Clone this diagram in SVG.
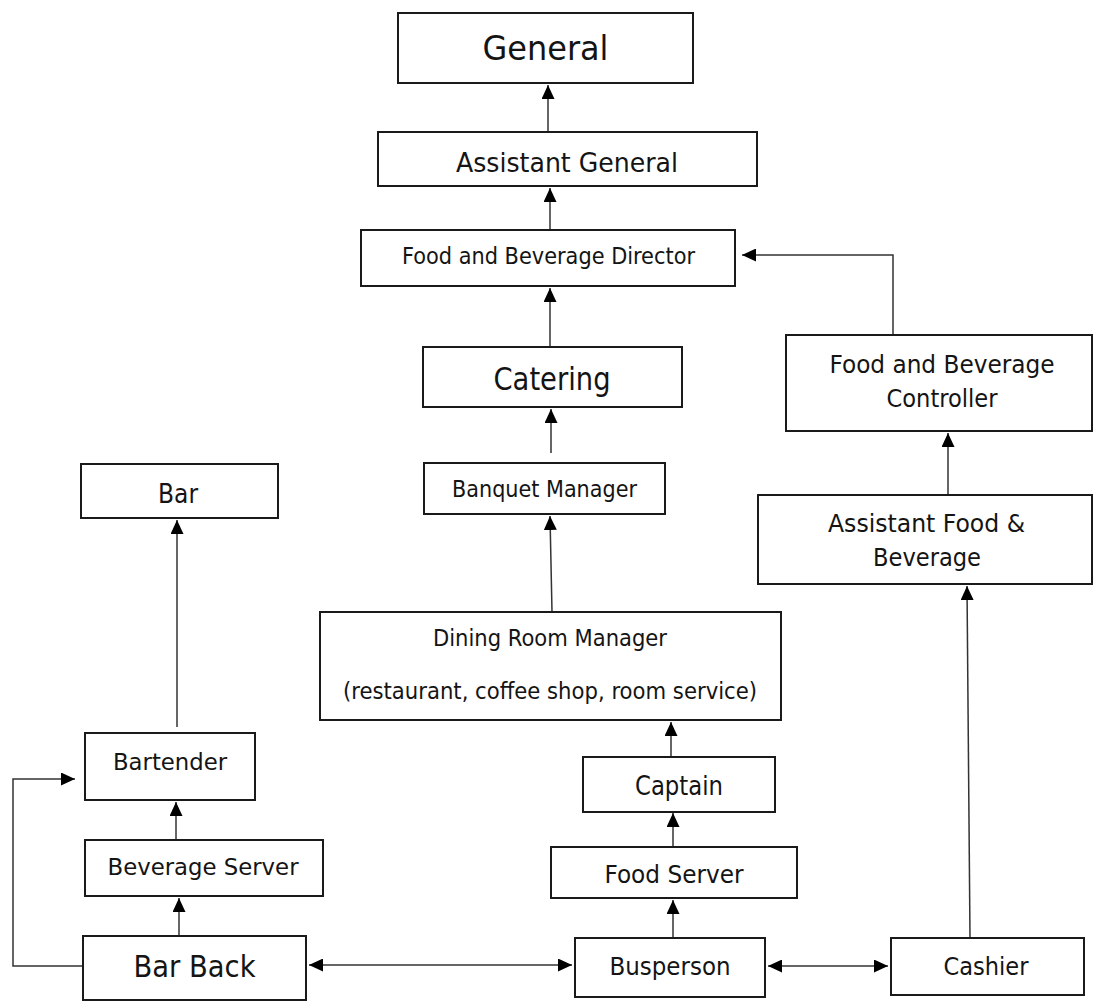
<svg xmlns="http://www.w3.org/2000/svg" width="1096" height="1002" viewBox="0 0 1096 1002">
<style>
.box{fill:#fff;stroke:#1a1a1a;stroke-width:2}
.conn{fill:none;stroke:#333;stroke-width:1.5}
text{font-family:"DejaVu Sans Condensed","DejaVu Sans",sans-serif;font-stretch:condensed;fill:#141414;text-anchor:middle}
</style>
<defs>
<marker id="ah" viewBox="0 0 14 13" refX="14" refY="6.5" markerWidth="14" markerHeight="13" markerUnits="userSpaceOnUse" orient="auto-start-reverse">
<path d="M0,0 L14,6.5 L0,13 z" fill="#000"/>
</marker>
</defs>
<rect width="1096" height="1002" fill="#fff"/>
<g id="connectors">
<path class="conn" d="M548,132 V85" marker-end="url(#ah)"/>
<path class="conn" d="M550,230 V188" marker-end="url(#ah)"/>
<path class="conn" d="M550,347 V288" marker-end="url(#ah)"/>
<path class="conn" d="M551,453 V409" marker-end="url(#ah)"/>
<path class="conn" d="M552,612 L550,516" marker-end="url(#ah)"/>
<path class="conn" d="M671,757 V722" marker-end="url(#ah)"/>
<path class="conn" d="M673,847 V813" marker-end="url(#ah)"/>
<path class="conn" d="M673,938 V900" marker-end="url(#ah)"/>
<path class="conn" d="M309,965 H572" marker-start="url(#ah)" marker-end="url(#ah)"/>
<path class="conn" d="M768,966 H888" marker-start="url(#ah)" marker-end="url(#ah)"/>
<path class="conn" d="M970,938 L967,586" marker-end="url(#ah)"/>
<path class="conn" d="M948,495 V433" marker-end="url(#ah)"/>
<path class="conn" d="M893,335 V255 H742" marker-end="url(#ah)"/>
<path class="conn" d="M177,727 V520" marker-end="url(#ah)"/>
<path class="conn" d="M176,840 V802" marker-end="url(#ah)"/>
<path class="conn" d="M179,936 V898" marker-end="url(#ah)"/>
<path class="conn" d="M83,966 H13 V779 H75" marker-end="url(#ah)"/>
</g>
<g id="general"><rect class="box" x="398" y="13" width="295" height="70"/><text x="545.5" y="60" font-size="34" textLength="126" lengthAdjust="spacingAndGlyphs">General</text></g>
<g id="assistant-general"><rect class="box" x="378" y="132" width="379" height="54"/><text x="567" y="172" font-size="27" textLength="222" lengthAdjust="spacingAndGlyphs">Assistant General</text></g>
<g id="fb-director"><rect class="box" x="361" y="230" width="374" height="56"/><text x="548.5" y="264" font-size="23" textLength="293" lengthAdjust="spacingAndGlyphs">Food and Beverage Director</text></g>
<g id="catering"><rect class="box" x="423" y="347" width="259" height="60"/><text x="552" y="390" font-size="32" textLength="117" lengthAdjust="spacingAndGlyphs">Catering</text></g>
<g id="banquet-manager"><rect class="box" x="424" y="463" width="241" height="51"/><text x="544.5" y="497" font-size="23" textLength="185" lengthAdjust="spacingAndGlyphs">Banquet Manager</text></g>
<g id="dining-room-manager"><rect class="box" x="320" y="612" width="461" height="108"/><text x="550" y="646" font-size="23" textLength="234" lengthAdjust="spacingAndGlyphs">Dining Room Manager</text><text x="550" y="699" font-size="23" textLength="414" lengthAdjust="spacingAndGlyphs">(restaurant, coffee shop, room service)</text></g>
<g id="captain"><rect class="box" x="583" y="757" width="192" height="55"/><text x="679" y="795" font-size="26" textLength="88" lengthAdjust="spacingAndGlyphs">Captain</text></g>
<g id="food-server"><rect class="box" x="551" y="847" width="246" height="51"/><text x="674" y="883" font-size="24" textLength="139" lengthAdjust="spacingAndGlyphs">Food Server</text></g>
<g id="busperson"><rect class="box" x="575" y="938" width="190" height="59"/><text x="670" y="975" font-size="24" textLength="121" lengthAdjust="spacingAndGlyphs">Busperson</text></g>
<g id="cashier"><rect class="box" x="891" y="938" width="193" height="57"/><text x="986" y="975" font-size="24" textLength="85" lengthAdjust="spacingAndGlyphs">Cashier</text></g>
<g id="fb-controller"><rect class="box" x="786" y="335" width="306" height="96"/><text x="942" y="373" font-size="25" textLength="225" lengthAdjust="spacingAndGlyphs">Food and Beverage</text><text x="942" y="407" font-size="25" textLength="111" lengthAdjust="spacingAndGlyphs">Controller</text></g>
<g id="assistant-fb"><rect class="box" x="758" y="495" width="334" height="89"/><text x="926.5" y="532" font-size="25" textLength="197" lengthAdjust="spacingAndGlyphs">Assistant Food &amp;</text><text x="927" y="566" font-size="25" textLength="108" lengthAdjust="spacingAndGlyphs">Beverage</text></g>
<g id="bar"><rect class="box" x="81" y="464" width="197" height="54"/><text x="178" y="503" font-size="26" textLength="40" lengthAdjust="spacingAndGlyphs">Bar</text></g>
<g id="bartender"><rect class="box" x="85" y="733" width="170" height="67"/><text x="170" y="770" font-size="23" textLength="114" lengthAdjust="spacingAndGlyphs">Bartender</text></g>
<g id="beverage-server"><rect class="box" x="85" y="840" width="238" height="56"/><text x="203" y="875" font-size="23" textLength="191" lengthAdjust="spacingAndGlyphs">Beverage Server</text></g>
<g id="bar-back"><rect class="box" x="83" y="936" width="223" height="64"/><text x="194.5" y="977" font-size="30" textLength="122" lengthAdjust="spacingAndGlyphs">Bar Back</text></g>
</svg>
